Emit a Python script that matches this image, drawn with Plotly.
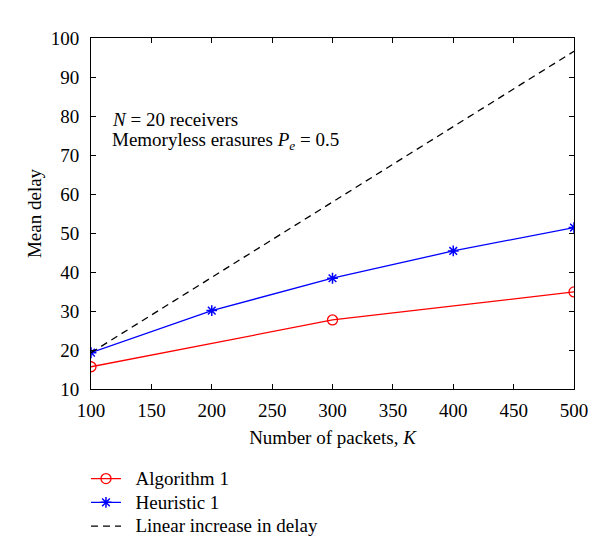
import plotly.graph_objects as go

packets_alg = [100, 300, 500]
delay_alg = [15.7, 27.7, 34.9]

packets_heur = [100, 200, 300, 400, 500]
delay_heur = [19.3, 30.1, 38.4, 45.4, 51.4]

packets_lin = [100, 500]
delay_lin = [19.3, 96.6]

x_ticks = [100, 150, 200, 250, 300, 350, 400, 450, 500]
y_ticks = [10, 20, 30, 40, 50, 60, 70, 80, 90, 100]

FONT = "Liberation Serif"
FS = 19
SP = "\u00a0\u00a0"


def legend_label(text):
    return '<span style="font-size:19px">' + SP + text + "</span>"


fig = go.Figure()
fig.add_trace(go.Scatter(
    x=packets_alg, y=delay_alg, mode="lines+markers", name=legend_label("Algorithm 1"),
    line=dict(color="#ff0000", width=1.3),
    marker=dict(symbol="circle-open", size=10, color="#ff0000", line=dict(width=1.3)),
))
fig.add_trace(go.Scatter(
    x=packets_heur, y=delay_heur, mode="lines+markers", name=legend_label("Heuristic 1"),
    line=dict(color="#0000ff", width=1.3),
    marker=dict(symbol="asterisk-open", size=9, color="#0000ff", line=dict(width=1.5, color="#0000ff")),
))
fig.add_trace(go.Scatter(
    x=packets_lin, y=delay_lin, mode="lines", name=legend_label("Linear increase in delay"),
    line=dict(color="black", width=1.3, dash="7px,5px"),
))

fig.add_annotation(
    x=116, y=79, xref="x", yref="y", xanchor="left", yanchor="middle",
    text="<i>N</i> = 20 receivers", showarrow=False,
    font=dict(family=FONT, size=FS, color="black"),
)
fig.add_annotation(
    x=116, y=73.7, xref="x", yref="y", xanchor="left", yanchor="middle",
    text="Memoryless erasures <i>P<sub>e</sub></i> = 0.5", showarrow=False,
    font=dict(family=FONT, size=FS, color="black"),
)

axis_common = dict(
    showgrid=False, zeroline=False, showline=True, linecolor="black", linewidth=1,
    mirror="ticks", ticks="inside", ticklen=5, tickcolor="black", tickwidth=1,
    tickfont=dict(family=FONT, size=FS, color="black"),
)

fig.update_layout(
    width=600, height=551,
    margin=dict(l=83, r=34, t=30, b=170),
    paper_bgcolor="white", plot_bgcolor="white",
    font=dict(family=FONT, size=FS, color="black"),
    showlegend=True,
    legend=dict(
        x=-0.0104, y=-0.207, xanchor="left", yanchor="top",
        font=dict(family=FONT, size=16, color="black"),
        bgcolor="rgba(0,0,0,0)", tracegroupgap=0, itemwidth=30,
    ),
    xaxis=dict(
        range=[100, 500], tickvals=x_ticks, ticktext=[str(v) for v in x_ticks],
        ticklabelstandoff=4,
        title=dict(text="Number of packets, <i>K</i>", font=dict(family=FONT, size=FS), standoff=10),
        **axis_common,
    ),
    yaxis=dict(
        range=[10, 100], tickvals=y_ticks, ticktext=[str(v) for v in y_ticks],
        ticklabelstandoff=7,
        title=dict(text="Mean delay", font=dict(family=FONT, size=FS), standoff=4),
        **axis_common,
    ),
)

fig.write_html("out.html")
